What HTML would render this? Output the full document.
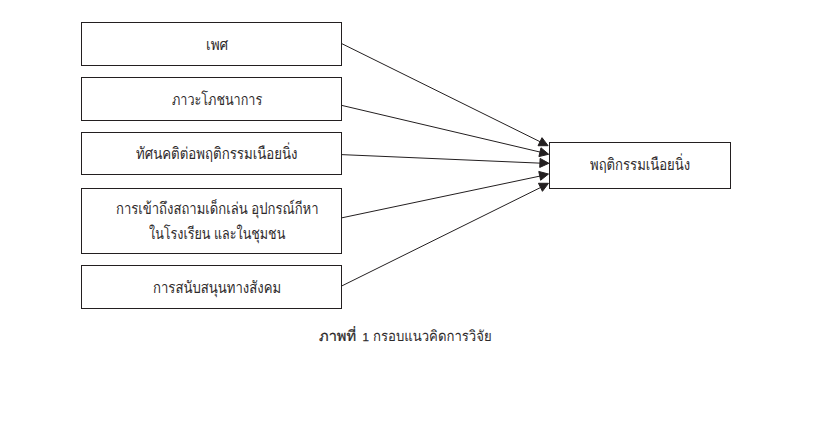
<!DOCTYPE html>
<html><head><meta charset="utf-8"><style>
html,body{margin:0;padding:0}
body{width:814px;height:423px;background:#fff;position:relative;overflow:hidden;font-family:"Liberation Sans",sans-serif;color:#231f20}
.b{position:absolute;box-sizing:border-box;border:1px solid #231f20;background:#fff}
.t{position:absolute;color:#2e2a2b;white-space:nowrap;line-height:20px;font-size:13px;transform-origin:0 6.7px;text-rendering:geometricPrecision}
svg{position:absolute;left:0;top:0}
</style></head><body>
<div class="b" style="left:81px;top:22px;width:261px;height:44px"></div>
<div class="b" style="left:81px;top:77px;width:261px;height:44px"></div>
<div class="b" style="left:81px;top:132px;width:261px;height:43px"></div>
<div class="b" style="left:81px;top:188px;width:261px;height:66px"></div>
<div class="b" style="left:81px;top:265px;width:261px;height:44px"></div>
<div class="b" style="left:549px;top:142px;width:182px;height:47px"></div>
<svg width="814" height="423" viewBox="0 0 814 423"><g stroke="#231f20" stroke-width="1" fill="#231f20"><line x1="341.5" y1="43.50" x2="540.93" y2="142.15"/><polygon points="548.10,145.70 538.04,145.74 542.03,137.68"/><line x1="341.5" y1="105.33" x2="540.91" y2="152.25"/><polygon points="548.70,154.25 538.91,156.57 540.97,147.81"/><line x1="341.5" y1="154.62" x2="540.91" y2="163.18"/><polygon points="548.90,163.30 539.72,167.41 540.10,158.42"/><line x1="341.5" y1="217.90" x2="540.67" y2="175.95"/><polygon points="548.50,174.00 540.62,180.26 538.77,171.45"/><line x1="341.5" y1="286.08" x2="541.33" y2="187.13"/><polygon points="548.50,183.30 542.43,191.33 538.44,183.26"/></g></svg>
<div class="t" style="left:205.96px;top:34px;transform:scale(1.045,1.25)">เพศ</div>
<div class="t" style="left:172.03px;top:89px;transform:scale(0.9717,1.25)">ภาวะโภชนาการ</div>
<div class="t" style="left:136.38px;top:143px;transform:scale(1.0197,1.25)">ทัศนคติต่อพฤติกรรมเนือยนิ่ง</div>
<div class="t" style="left:115.69px;top:198px;transform:scale(1.0075,1.25)">การเข้าถึงสถามเด็กเล่น อุปกรณ์กีหา</div>
<div class="t" style="left:149.2px;top:223px;transform:scale(0.9679,1.25)">ในโรงเรียน และในชุมชน</div>
<div class="t" style="left:153.19px;top:277px;transform:scale(1.0112,1.25)">การสนับสนุนทางสังคม</div>
<div class="t" style="left:590.0px;top:154px;transform:scale(1.0091,1.25)">พฤติกรรมเนือยนิ่ง</div>
<div class="t" style="left:319.27px;top:326px;-webkit-text-stroke:0.22px #231f20;transform:scale(1.1258,1.12)">ภาพที่</div>
<div class="t" style="left:362.5px;top:330px;font-size:11.5px;line-height:16px;transform:none;-webkit-text-stroke:0.25px #2e2a2b">1</div>
<div class="t" style="left:373.39px;top:326px;transform:scale(1.0113,1.12)">กรอบแนวคิดการวิจัย</div>
</body></html>
